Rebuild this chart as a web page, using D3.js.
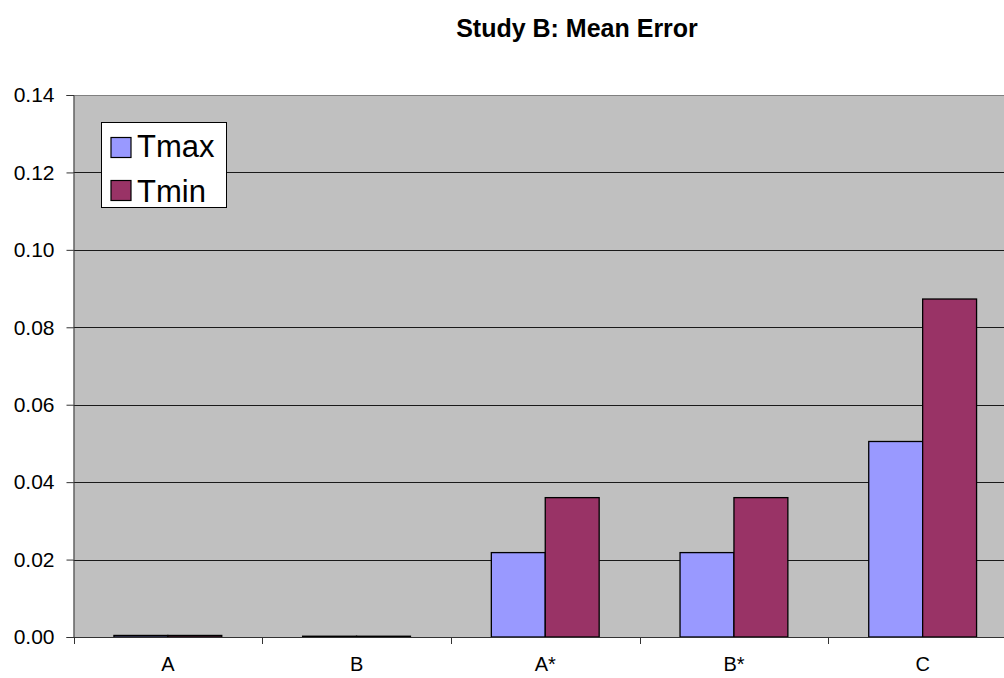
<!DOCTYPE html>
<html>
<head>
<meta charset="utf-8">
<script src="https://cdn.jsdelivr.net/npm/d3@7"></script>
<style>
  html, body { margin: 0; padding: 0; background: #fff; overflow: hidden; }
  svg { display: block; font-family: "Liberation Sans", Arial, sans-serif; }
</style>
</head>
<body>
<svg id="chart" width="1004" height="678"></svg>
<script>
const categories = ["A", "B", "A*", "B*", "C"];
const seriesNames = ["Tmax", "Tmin"];
const tmaxValues = [0.0004, 0.0002, 0.0218, 0.0218, 0.0505];
const tminValues = [0.0004, 0.0002, 0.0360, 0.0360, 0.0873];
const yTicks = [0, 0.02, 0.04, 0.06, 0.08, 0.10, 0.12, 0.14];
const colors = ["#9999ff", "#993366"];

const FONT = "'Liberation Sans', Arial, sans-serif";
const svg = d3.select("#chart");
const plot = { left: 73.5, top: 95, right: 1017, bottom: 637 };

const x = d3.scaleBand().domain(categories).range([plot.left, plot.right]).paddingInner(0).paddingOuter(0);
const inner = d3.scaleBand().domain(seriesNames).range([0, x.bandwidth()]).paddingInner(0).paddingOuter(0.75);
const y = d3.scaleLinear().domain([0, 0.14]).range([plot.bottom, plot.top]);

// plot background
svg.append("rect")
  .attr("x", plot.left).attr("y", plot.top)
  .attr("width", plot.right - plot.left).attr("height", plot.bottom - plot.top)
  .attr("fill", "#c0c0c0");

// horizontal gridlines
svg.append("g")
  .selectAll("line")
  .data(yTicks.filter(t => t > 0))
  .join("line")
  .attr("x1", plot.left).attr("x2", plot.right)
  .attr("y1", d => Math.round(y(d)) + 0.5).attr("y2", d => Math.round(y(d)) + 0.5)
  .attr("stroke", d => d === 0.14 ? "#808080" : "#1a1a1a").attr("stroke-width", 1);

// bars
const rows = categories.map((c, i) => ({ cat: c, values: [tmaxValues[i], tminValues[i]] }));
svg.append("g")
  .selectAll("g")
  .data(rows)
  .join("g")
  .attr("transform", d => `translate(${x(d.cat)},0)`)
  .selectAll("rect")
  .data(d => d.values.map((v, k) => ({ series: seriesNames[k], value: v, k })))
  .join("rect")
  .attr("x", d => inner(d.series))
  .attr("width", inner.bandwidth())
  .attr("y", d => y(d.value))
  .attr("height", d => y(0) - y(d.value))
  .attr("fill", d => colors[d.k])
  .attr("stroke", "#000")
  .attr("stroke-width", 1.3);

// y axis
const yAxis = svg.append("g")
  .attr("transform", `translate(${plot.left},0)`)
  .call(d3.axisLeft(y).tickValues(yTicks).tickFormat(d3.format(".2f")).tickSize(7).tickPadding(12));
yAxis.select(".domain").attr("stroke", "#333");
yAxis.selectAll(".tick line").attr("stroke", "#333");
yAxis.selectAll("text").attr("font-size", 21).attr("fill", "#000").attr("font-family", FONT);

// x axis
const xAxis = svg.append("g")
  .attr("transform", `translate(0,${plot.bottom})`)
  .call(d3.axisBottom(x).tickSize(0).tickPadding(20));
xAxis.select(".domain").attr("stroke", "#333");
xAxis.selectAll("text").attr("font-size", 20).attr("fill", "#000").attr("font-family", FONT);
// category separators
svg.append("g")
  .selectAll("line")
  .data(categories)
  .join("line")
  .attr("x1", d => Math.round(x(d)) + 0.5).attr("x2", d => Math.round(x(d)) + 0.5)
  .attr("y1", plot.bottom).attr("y2", plot.bottom + 7)
  .attr("stroke", "#333");

// title
svg.append("text")
  .attr("x", 577).attr("y", 37)
  .attr("text-anchor", "middle")
  .attr("font-size", 25).attr("font-weight", "bold")
  .attr("font-family", FONT)
  .text("Study B: Mean Error");

// legend
const legend = svg.append("g").attr("transform", "translate(101.5,122.5)");
legend.append("rect")
  .attr("width", 125).attr("height", 85)
  .attr("fill", "#fff").attr("stroke", "#000").attr("stroke-width", 1);
seriesNames.forEach((name, i) => {
  const top = 15 + i * 43;
  legend.append("rect")
    .attr("x", 9.5).attr("y", top).attr("width", 20).attr("height", 20)
    .attr("fill", colors[i]).attr("stroke", "#000").attr("stroke-width", 1.2);
  legend.append("text")
    .attr("x", 35.5).attr("y", 34 + i * 45)
    .attr("font-size", 31).attr("font-family", FONT)
    .text(name);
});
</script>
</body>
</html>
